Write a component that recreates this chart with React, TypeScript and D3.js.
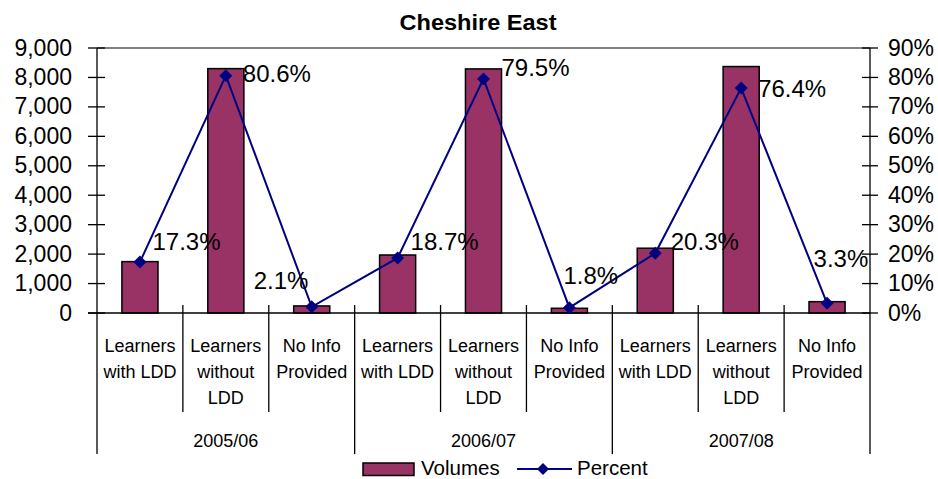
import React from "react";
import * as d3 from "d3";

const TITLE = "Cheshire East";
const years = ["2005/06", "2006/07", "2007/08"];
const categoryLines = [
  ["Learners", "with LDD"],
  ["Learners", "without", "LDD"],
  ["No Info", "Provided"],
];
const volumes = [1745, 8300, 240, 1970, 8290, 160, 2200, 8370, 385];
const percents = [17.3, 80.6, 2.1, 18.7, 79.5, 1.8, 20.3, 76.4, 3.3];
const leftTicks = [0, 1000, 2000, 3000, 4000, 5000, 6000, 7000, 8000, 9000];
const rightTicks = [0, 10, 20, 30, 40, 50, 60, 70, 80, 90];
// label placement relative to each point (dx to label's left edge, dy to label's centre)
const labelDx = [12.5, 17, -58, 13, 18, -6, 15.5, 17, -13.5];
const labelDy = [-20, -2, -26, -16, -11, -32, -11.5, 1, -45];

const W = 938;
const H = 479;
const X0 = 97;
const X1 = 870;
const YTOP = 48;
const YBOT = 313;
const BAR = "#993366";
const LINE = "#000080";
const FONT = "'Liberation Sans', Arial, sans-serif";

export default function App() {
  const idx = d3.range(volumes.length);
  const x = d3.scaleBand<number>().domain(idx).range([X0, X1]).paddingInner(0).paddingOuter(0);
  const y = d3.scaleLinear().domain([0, 9000]).range([YBOT, YTOP]);
  const yp = d3.scaleLinear().domain([0, 90]).range([YBOT, YTOP]);
  const bw = x.bandwidth() * 0.42;
  const cx = (i: number) => (x(i) as number) + x.bandwidth() / 2;
  const line = d3
    .line<number>()
    .x((_, i) => cx(i))
    .y((d) => yp(d));
  const fmt = d3.format(",");
  const groupW = x.bandwidth() * 3;
  const diamond = (px: number, py: number, r: number) =>
    `M${px},${py - r}L${px + r},${py}L${px},${py + r}L${px - r},${py}Z`;

  return (
    <svg
      width={W}
      height={H}
      style={{ position: "absolute", left: 0, top: 0, background: "#fff" }}
      fontFamily={FONT}
    >
      <rect width={W} height={H} fill="#fff" />
      <text x={478} y={30} textAnchor="middle" fontWeight="bold" fontSize={22} textLength={157} lengthAdjust="spacingAndGlyphs">
        {TITLE}
      </text>
      {/* top border of plot area */}
      <line x1={X0} x2={X1} y1={YTOP} y2={YTOP} stroke="#808080" strokeWidth={2} />

      {/* bars */}
      {volumes.map((v, i) => (
        <rect
          key={"b" + i}
          x={cx(i) - bw / 2}
          y={y(v)}
          width={bw}
          height={YBOT - y(v)}
          fill={BAR}
          stroke="#000"
          strokeWidth={1.5}
        />
      ))}

      {/* left axis */}
      <line x1={X0} x2={X0} y1={YTOP} y2={454} stroke="#000" strokeWidth={1.3} />
      {leftTicks.map((t) => (
        <g key={"l" + t}>
          <line x1={88} x2={105} y1={y(t)} y2={y(t)} stroke="#000" strokeWidth={1.3} />
          <text x={72} y={y(t)} dy="0.33em" textAnchor="end" fontSize={23}>
            {fmt(t)}
          </text>
        </g>
      ))}

      {/* right axis */}
      <line x1={X1} x2={X1} y1={YTOP} y2={454} stroke="#000" strokeWidth={1.3} />
      {rightTicks.map((t) => (
        <g key={"r" + t}>
          <line x1={862} x2={878} y1={yp(t)} y2={yp(t)} stroke="#000" strokeWidth={1.3} />
          <text x={888} y={yp(t)} dy="0.33em" textAnchor="start" fontSize={23}>
            {t + "%"}
          </text>
        </g>
      ))}

      {/* category axis */}
      <line x1={88} x2={X1} y1={YBOT} y2={YBOT} stroke="#000" strokeWidth={1.3} />
      {idx.slice(1).map((i) => {
        const xx = x(i) as number;
        const isGroup = i % 3 === 0;
        return (
          <line
            key={"s" + i}
            x1={xx}
            x2={xx}
            y1={305}
            y2={isGroup ? 454 : 412}
            stroke="#000"
            strokeWidth={1.3}
          />
        );
      })}
      {idx.map((i) =>
        categoryLines[i % 3].map((ln, k) => (
          <text key={"c" + i + k} x={cx(i)} y={352 + k * 26} textAnchor="middle" fontSize={18}>
            {ln}
          </text>
        ))
      )}
      {years.map((yr, g) => (
        <text key={"y" + g} x={X0 + groupW * g + groupW / 2} y={447} textAnchor="middle" fontSize={18}>
          {yr}
        </text>
      ))}

      {/* percent line */}
      <path d={line(percents) || ""} fill="none" stroke={LINE} strokeWidth={2} />
      {percents.map((p, i) => (
        <path key={"m" + i} d={diamond(cx(i), yp(p), 6.5)} fill={LINE} />
      ))}
      {percents.map((p, i) => (
        <text
          key={"t" + i}
          x={cx(i) + labelDx[i]}
          y={yp(p) + labelDy[i]}
          dy="0.35em"
          fontSize={24}
        >
          {p.toFixed(1) + "%"}
        </text>
      ))}

      {/* legend */}
      <rect x={363} y={463} width={51} height={12.5} fill={BAR} stroke="#000" strokeWidth={1.5} />
      <text x={421} y={475} fontSize={20.5}>
        Volumes
      </text>
      <line x1={517} x2={572} y1={469} y2={469} stroke={LINE} strokeWidth={2} />
      <path d={diamond(543, 469, 6)} fill={LINE} />
      <text x={577} y={475} fontSize={20.5}>
        Percent
      </text>
    </svg>
  );
}
